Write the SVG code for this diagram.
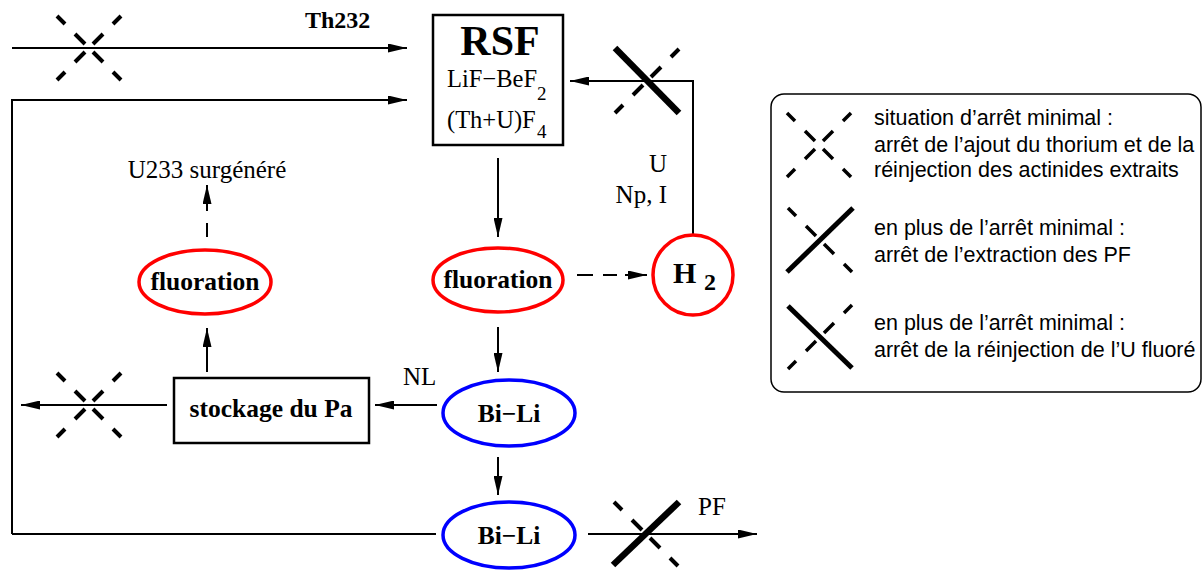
<svg xmlns="http://www.w3.org/2000/svg" xmlns:xlink="http://www.w3.org/1999/xlink" width="1203" height="570" viewBox="0 0 1203 570">
<style>
.ln{stroke:#000;stroke-width:2;fill:none}
.box{fill:#fff;stroke:#000;stroke-width:2.5}
.red{fill:#fff;stroke:#f00;stroke-width:3.5}
.blue{fill:#fff;stroke:#00f;stroke-width:3.5}
.ser{font-family:"Liberation Serif","Times New Roman",serif;font-size:25px;fill:#000}
.b{font-weight:bold}
.sans{font-family:"Liberation Sans",Arial,sans-serif;font-size:21.5px;fill:#000}
.dash{stroke:#000;stroke-width:4;fill:none}
.thick{stroke:#000;stroke-width:6.5;fill:none}
.ldash{stroke:#000;stroke-width:3.5;fill:none}
.lthick{stroke:#000;stroke-width:5;fill:none}
</style>
<defs>
<marker id="ah" viewBox="0 0 19 9" refX="19" refY="4.5" markerWidth="19" markerHeight="9" markerUnits="userSpaceOnUse" orient="auto">
<path d="M0,0 L19,4.5 L0,9 z" fill="#000"/>
</marker>
<path id="dd1" d="M-32,-32 L-24,-24 M-14,-14 L-4,-4 M4,4 L14,14 M24,24 L32,32"/>
<path id="dd2" d="M32,-32 L24,-24 M14,-14 L4,-4 M-4,4 L-14,14 M-24,24 L-32,32"/>
</defs>
<rect width="1203" height="570" fill="#fff"/>

<g id="connectors">
<path class="ln" d="M12,48 L407,48" marker-end="url(#ah)"/>
<path class="ln" d="M12,534 L12,100 L407,100" marker-end="url(#ah)"/>
<path class="ln" d="M12,534 L436,534"/>
<path class="ln" d="M498,158 L498,237" marker-end="url(#ah)"/>
<path class="ln" d="M693,235 L693,81 L570,81" marker-end="url(#ah)"/>
<path class="ln" d="M577,275 L647,275" stroke-dasharray="16 10 14 8 60" marker-end="url(#ah)"/>
<path class="ln" d="M498,327 L498,372" marker-end="url(#ah)"/>
<path class="ln" d="M437,405 L375,405" marker-end="url(#ah)"/>
<path class="ln" d="M167,405 L21,405" marker-end="url(#ah)"/>
<path class="ln" d="M207,372 L207,328" marker-end="url(#ah)"/>
<path class="ln" d="M207,237 L207,185" stroke-dasharray="14 12 60" marker-end="url(#ah)"/>
<path class="ln" d="M498,457 L498,495" marker-end="url(#ah)"/>
<path class="ln" d="M588,534 L757,534" marker-end="url(#ah)"/>
</g>

<g id="stops">
<g transform="translate(89,48)" class="dash"><use xlink:href="#dd1"/><use xlink:href="#dd2"/></g>
<g transform="translate(89,405)" class="dash"><use xlink:href="#dd1"/><use xlink:href="#dd2"/></g>
<g transform="translate(647,81)"><use xlink:href="#dd2" class="dash"/><path class="thick" d="M-32,-33 L32,32"/></g>
<g transform="translate(646,534)"><use xlink:href="#dd1" class="dash"/><path class="thick" d="M-33,31 L33,-32"/></g>
</g>

<g id="labels">
<text class="ser b" x="305" y="28" style="font-size:24px">Th232</text>
<text class="ser" x="667" y="172" text-anchor="end">U</text>
<text class="ser" x="667" y="203" text-anchor="end">Np, I</text>
<text class="ser" x="207" y="178" text-anchor="middle">U233 surgénéré</text>
<text class="ser" x="403" y="385">NL</text>
<text class="ser" x="698" y="515">PF</text>
</g>

<g id="rsf">
<rect class="box" x="433" y="15" width="130" height="130"/>
<text class="ser b" x="500" y="55" text-anchor="middle" style="font-size:42px">RSF</text>
<text class="ser" x="447" y="87" style="font-size:24.5px">LiF−BeF</text>
<text class="ser" x="537" y="100" style="font-size:19px">2</text>
<text class="ser" x="447" y="128" style="font-size:24.5px">(Th+U)F</text>
<text class="ser" x="537" y="138" style="font-size:19px">4</text>
</g>

<g id="fluoration-center">
<ellipse class="red" cx="498" cy="280" rx="65" ry="32"/>
<text class="ser b" x="498" y="288" text-anchor="middle" style="font-size:25.5px">fluoration</text>
</g>

<g id="h2">
<circle class="red" cx="693" cy="275" r="40"/>
<text class="ser b" x="673" y="283" style="font-size:30px">H</text>
<text class="ser b" x="704" y="290" style="font-size:24px">2</text>
</g>

<g id="fluoration-left">
<ellipse class="red" cx="205" cy="282" rx="66" ry="32"/>
<text class="ser b" x="205" y="290" text-anchor="middle" style="font-size:25.5px">fluoration</text>
</g>

<g id="stockage">
<rect class="box" x="174" y="378" width="195" height="65"/>
<text class="ser b" x="271" y="417" text-anchor="middle" style="font-size:25.5px">stockage du Pa</text>
</g>

<g id="bili1">
<ellipse class="blue" cx="509" cy="413" rx="66" ry="33"/>
<text class="ser b" x="509" y="422" text-anchor="middle" style="font-size:25.5px">Bi−Li</text>
</g>

<g id="bili2">
<ellipse class="blue" cx="509" cy="535" rx="66" ry="33"/>
<text class="ser b" x="509" y="544" text-anchor="middle" style="font-size:25.5px">Bi−Li</text>
</g>

<g id="legend">
<rect x="771" y="94" width="430" height="298" rx="13" fill="#fff" stroke="#000" stroke-width="1.5"/>
<g transform="translate(819,145)" class="ldash"><use xlink:href="#dd1"/><use xlink:href="#dd2"/></g>
<g transform="translate(820,240)"><use xlink:href="#dd1" class="ldash"/><path class="lthick" d="M-33,32 L33,-32"/></g>
<g transform="translate(820,337)"><use xlink:href="#dd2" class="ldash"/><path class="lthick" d="M-32,-31 L32,31"/></g>
<text class="sans" x="874" y="125">situation d’arrêt minimal :</text>
<text class="sans" x="874" y="152">arrêt de l’ajout du thorium et de la</text>
<text class="sans" x="874" y="177">réinjection des actinides extraits</text>
<text class="sans" x="874" y="235">en plus de l’arrêt minimal :</text>
<text class="sans" x="874" y="262">arrêt de l’extraction des PF</text>
<text class="sans" x="874" y="330">en plus de l’arrêt minimal :</text>
<text class="sans" x="874" y="357">arrêt de la réinjection de l’U fluoré</text>
</g>
</svg>
